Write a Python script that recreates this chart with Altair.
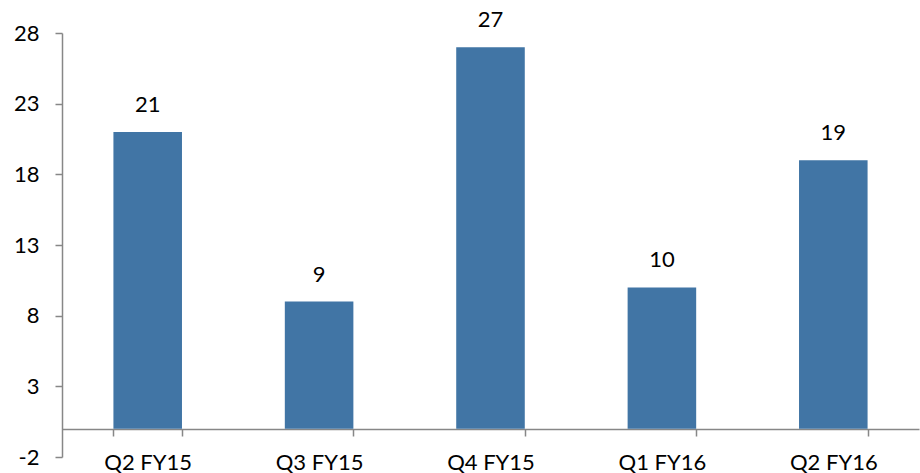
import altair as alt
import pandas as pd

# Quarterly values shown as labelled columns
quarters = ["Q2 FY15", "Q3 FY15", "Q4 FY15", "Q1 FY16", "Q2 FY16"]
values = [21, 9, 27, 10, 19]
y_ticks = [-2, 3, 8, 13, 18, 23, 28]

df = pd.DataFrame({"quarter": quarters, "value": values})

FONT = "Lato"
AXIS_GREY = "#878787"
BAR_BLUE = "#4175A5"

x_enc = alt.X(
    "quarter:N",
    sort=quarters,
    scale=alt.Scale(paddingInner=0.6, paddingOuter=0.3),
    axis=alt.Axis(
        title=None,
        labelAngle=0,
        labelFont=FONT,
        labelFontSize=22,
        labelColor="#000000",
        labelPadding=16,
        domainColor=AXIS_GREY,
        domainWidth=1.5,
        tickColor=AXIS_GREY,
        tickWidth=1.5,
        tickSize=7,
        tickBand="extent",
        offset=-28,
    ),
)

y_enc = alt.Y(
    "value:Q",
    scale=alt.Scale(domain=[-2, 28], nice=False, zero=False),
    axis=alt.Axis(
        title=None,
        values=y_ticks,
        labelExpr="'' + datum.value",
        grid=False,
        labelFont=FONT,
        labelFontSize=22,
        labelColor="#000000",
        labelPadding=16,
        domainColor=AXIS_GREY,
        domainWidth=1.5,
        tickColor=AXIS_GREY,
        tickWidth=1.5,
        tickSize=7,
    ),
)

bars = alt.Chart(df).mark_bar(color=BAR_BLUE).encode(
    x=x_enc,
    y=y_enc,
    y2=alt.datum(0),
)

labels = alt.Chart(df).mark_text(
    font=FONT, fontSize=22, color="#000000", baseline="middle", dy=-27
).encode(
    x=alt.X("quarter:N", sort=quarters),
    y=alt.Y("value:Q"),
    text=alt.Text("value:Q"),
)

chart = (
    alt.layer(bars, labels)
    .properties(
        width=857,
        height=424,
        padding={"left": 62, "top": 33, "right": 1, "bottom": 16},
        autosize=alt.AutoSizeParams(type="none"),
        background="#ffffff",
    )
    .configure_view(stroke=None)
)

chart.save("out.html", embed_options={"renderer": "svg", "actions": False})
